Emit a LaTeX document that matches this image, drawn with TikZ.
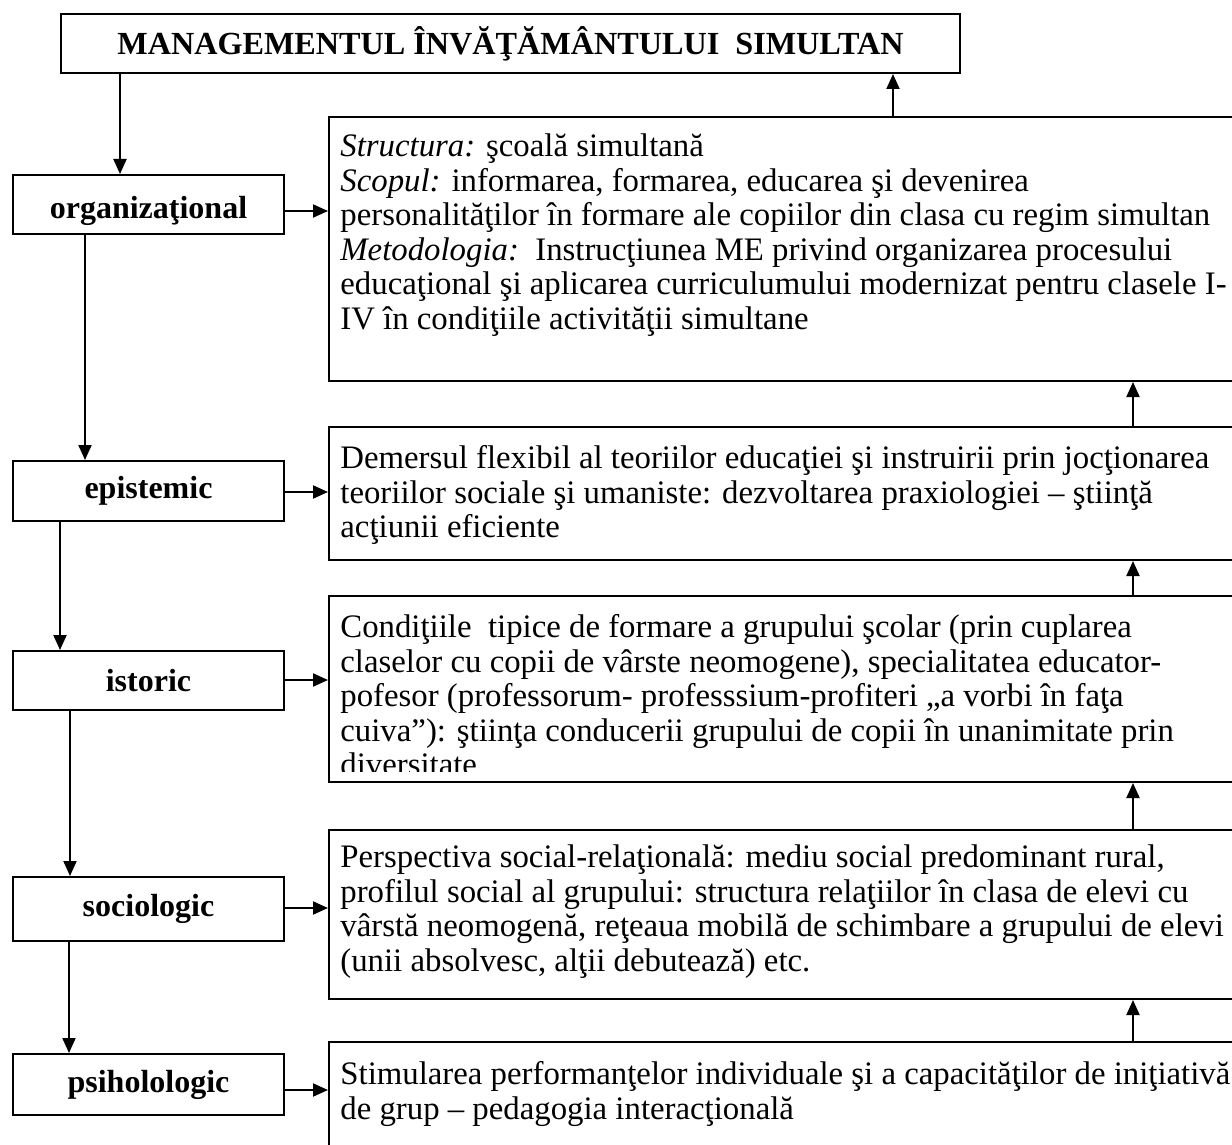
\documentclass[tikz,border=0pt]{standalone}
\usepackage{fontspec}
\setmainfont{Liberation Serif}
\usetikzlibrary{arrows.meta}
\begin{document}
\begin{tikzpicture}[x=0.5pt,y=-0.5pt,
  box/.style={draw,line width=1pt,inner sep=0pt,anchor=north west},
  lbox/.style={box,minimum width=135.5pt,minimum height=30pt,font=\fontsize{16}{19}\selectfont\bfseries},
  rbox/.style={box,minimum width=460pt},
  txt/.style={anchor=north west,inner sep=0pt,align=left,font=\fontsize{16.4}{17.3}\selectfont},
  arr/.style={line width=1pt,-{Triangle[length=7.5pt,width=6.5pt]}}]
\newcommand{\fl}{\rule{0pt}{14pt}}
\useasboundingbox (0,0) rectangle (1232,1145);
\clip (0,0) rectangle (1232,1145);
% top
\node[box,minimum width=449.5pt,minimum height=29.5pt,font=\fontsize{16.1}{19}\selectfont\bfseries] (top) at (60,13) {MANAGEMENTUL ÎNVĂŢĂMÂNTULUI\ \ SIMULTAN};
% left boxes
\node[lbox,minimum height=29.5pt,text height=18.5pt,text depth=4.5pt] (org) at (12,174) {organizaţional};
\node[lbox] (epi) at (12,460) {epistemic};
\node[lbox,minimum height=29.5pt] (ist) at (12,650) {istoric};
\node[lbox,minimum height=32pt] (soc) at (12,876) {sociologic};
\node[lbox,minimum height=30.5pt] (psi) at (12,1053) {psiholologic};
% right boxes
\node[rbox,minimum height=132pt] (r1) at (328,116) {};
\node[rbox,minimum height=66.5pt] (r2) at (328,426) {};
\node[rbox,minimum height=93pt] (r3) at (328,595) {};
\node[rbox,minimum height=84.5pt] (r4) at (328,829) {};
\node[rbox,minimum height=70pt] (r5) at (328,1041) {};
% texts
\node[txt] (t1) at (340,128) {\fl\textit{Structura:} şcoală simultană\\
\textit{Scopul:} informarea, formarea, educarea şi devenirea\\
personalităţilor în formare ale copiilor din clasa cu regim simultan\\
\textit{Metodologia:}\ \ Instrucţiunea ME privind organizarea procesului\\
educaţional şi aplicarea curriculumului modernizat pentru clasele I-\\
IV în condiţiile activităţii simultane};
\node[txt] (t2) at (340,440) {\fl Demersul flexibil al teoriilor educaţiei şi instruirii prin jocţionarea\\
teoriilor sociale şi umaniste: dezvoltarea praxiologiei – ştiinţă\\
acţiunii eficiente};
\begin{scope}
\clip (r3.north west) rectangle ([yshift=6pt]r3.south east);
\node[txt] (t3) at (340,609) {\fl Condiţiile\ \ tipice de formare a grupului şcolar (prin cuplarea\\
claselor cu copii de vârste neomogene), specialitatea educator-\\
pofesor (professorum- professsium-profiteri „a vorbi în faţa\\
cuiva”): ştiinţa conducerii grupului de copii în unanimitate prin\\
diversitate};
\end{scope}
\node[txt] (t4) at (340,839) {\fl Perspectiva social-relaţională: mediu social predominant rural,\\
profilul social al grupului: structura relaţiilor în clasa de elevi cu\\
vârstă neomogenă, reţeaua mobilă de schimbare a grupului de elevi\\
(unii absolvesc, alţii debutează) etc.};
\node[txt] (t5) at (340,1056) {\fl Stimularea performanţelor individuale şi a capacităţilor de iniţiativă\\
de grup – pedagogia interacţională};
% vertical left chain
\draw[arr] (top.south -| 120,0) -- (org.north -| 120,0);
\draw[arr] (org.south -| 85,0) -- (epi.north -| 85,0);
\draw[arr] (epi.south -| 60,0) -- (ist.north -| 60,0);
\draw[arr] (ist.south -| 70,0) -- (soc.north -| 70,0);
\draw[arr] (soc.south -| 69,0) -- (psi.north -| 69,0);
% horizontal
\draw[arr] (org.east |- 0,211) -- (r1.west |- 0,211);
\draw[arr] (epi.east |- 0,492) -- (r2.west |- 0,492);
\draw[arr] (ist.east |- 0,680) -- (r3.west |- 0,680);
\draw[arr] (soc.east |- 0,908) -- (r4.west |- 0,908);
\draw[arr] (psi.east |- 0,1090) -- (r5.west |- 0,1090);
% upward right chain
\draw[arr] (r5.north -| 1133,0) -- (r4.south -| 1133,0);
\draw[arr] (r4.north -| 1133,0) -- (r3.south -| 1133,0);
\draw[arr] (r3.north -| 1133,0) -- (r2.south -| 1133,0);
\draw[arr] (r2.north -| 1133,0) -- (r1.south -| 1133,0);
\draw[arr] (r1.north -| 893,0) -- (top.south -| 893,0);
\end{tikzpicture}
\end{document}
